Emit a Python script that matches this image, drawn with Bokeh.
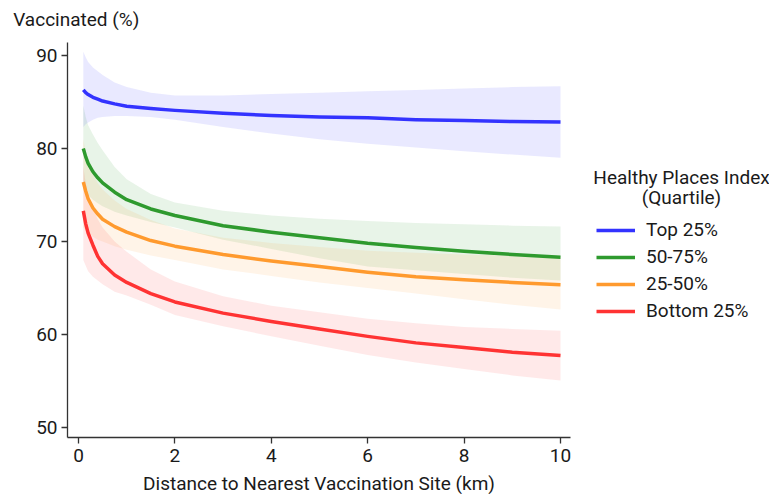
from bokeh.plotting import figure
from bokeh.models import Range1d, FixedTicker, Legend, LegendItem, Label, LinearAxis
from bokeh.embed import file_html
from bokeh.resources import INLINE

# Distance to nearest vaccination site (km)
distance = [0.1, 0.15, 0.2, 0.3, 0.4, 0.5, 0.75, 1, 1.5, 2, 3, 4, 5, 6, 7, 8, 9, 10]

series_names = ["Top 25%", "50-75%", "25-50%", "Bottom 25%"]

top_fit = [86.3, 86.0, 85.8, 85.5, 85.3, 85.1, 84.8, 84.55, 84.3, 84.1, 83.8, 83.55, 83.4, 83.3, 83.1, 83.0, 82.9, 82.85]
top_lo = [82.3, 82.6, 82.8, 83.1, 83.3, 83.4, 83.5, 83.5, 83.4, 83.1, 82.3, 81.6, 81.0, 80.5, 80.1, 79.7, 79.35, 79.0]
top_hi = [90.4, 89.8, 89.3, 88.7, 88.3, 87.9, 87.1, 86.6, 86.0, 85.7, 85.7, 85.85, 86.0, 86.15, 86.3, 86.45, 86.6, 86.7]

q3_fit = [80.0, 79.1, 78.4, 77.5, 76.85, 76.3, 75.3, 74.5, 73.5, 72.8, 71.7, 71.0, 70.4, 69.8, 69.35, 68.95, 68.6, 68.3]
q3_lo = [75.8, 75.4, 75.0, 74.5, 74.1, 73.8, 73.2, 72.8, 72.1, 71.5, 70.2, 69.2, 68.2, 67.3, 66.9, 66.5, 66.1, 65.8]
q3_hi = [84.6, 83.4, 82.5, 81.5, 80.6, 79.8, 78.0, 76.7, 75.1, 74.2, 73.3, 72.8, 72.45, 72.2, 72.0, 71.85, 71.7, 71.6]

q2_fit = [76.4, 75.4, 74.6, 73.6, 72.95, 72.4, 71.6, 71.0, 70.1, 69.5, 68.6, 67.9, 67.3, 66.7, 66.2, 65.9, 65.6, 65.35]
q2_lo = [71.5, 71.2, 70.9, 70.5, 70.2, 70.0, 69.5, 69.1, 68.5, 68.0, 67.0, 66.3, 65.6, 65.0, 64.4, 63.8, 63.2, 62.7]
q2_hi = [81.0, 79.6, 78.5, 77.2, 76.3, 75.6, 74.4, 73.5, 72.3, 71.4, 70.4, 69.85, 69.4, 69.0, 68.8, 68.6, 68.5, 68.4]

bot_fit = [73.3, 71.9, 70.9, 69.6, 68.4, 67.6, 66.4, 65.6, 64.4, 63.5, 62.3, 61.4, 60.6, 59.8, 59.1, 58.6, 58.1, 57.75]
bot_lo = [68.0, 67.4, 66.8, 66.2, 65.8, 65.4, 64.6, 64.2, 63.2, 62.1, 60.9, 59.8, 58.8, 57.8, 57.0, 56.3, 55.6, 55.05]
bot_hi = [78.0, 76.3, 75.0, 73.5, 72.4, 71.5, 70.0, 68.9, 67.0, 65.7, 64.1, 63.1, 62.4, 61.7, 61.2, 60.8, 60.6, 60.4]

x_ticks = [0, 2, 4, 6, 8, 10]
y_ticks = [50, 60, 70, 80, 90]
x_axis_span = (-0.228, 10.207)
y_axis_span = (48.92, 91.4)

line_colors = ["#3333ff", "#2e9a2e", "#ff9a2e", "#ff3333"]
FONT = "Roboto"
FS = "19px"
TXT = "#1a1a1a"

W, H = 769, 494
p = figure(width=W, height=H, output_backend="svg", toolbar_location=None,
           x_range=Range1d(-1.618, 14.336), y_range=Range1d(42.796, 95.914),
           min_border=0, x_axis_type=None, y_axis_type=None)
p.outline_line_color = None
p.grid.visible = False
p.background_fill_color = "white"
p.border_fill_color = "white"

fits = [top_fit, q3_fit, q2_fit, bot_fit]
los = [top_lo, q3_lo, q2_lo, bot_lo]
his = [top_hi, q3_hi, q2_hi, bot_hi]

for lo, hi, c in zip(los, his, line_colors):
    p.varea(x=distance, y1=lo, y2=hi, fill_color=c, fill_alpha=0.11)

items = []
for fit, c, name in zip(fits, line_colors, series_names):
    r = p.line(distance, fit, line_color=c, line_width=3.5, line_join="round")
    items.append(LegendItem(label=name, renderers=[r]))

xaxis = LinearAxis(fixed_location=y_axis_span[0], bounds=x_axis_span,
                   ticker=FixedTicker(ticks=x_ticks),
                   axis_label="Distance to Nearest Vaccination Site (km)")
yaxis = LinearAxis(fixed_location=x_axis_span[0], bounds=y_axis_span,
                   ticker=FixedTicker(ticks=y_ticks))
for ax in (xaxis, yaxis):
    ax.major_label_text_font = FONT
    ax.major_label_text_font_size = FS
    ax.major_label_text_color = TXT
    ax.axis_line_color = "#333333"
    ax.axis_line_width = 1.3
    ax.major_tick_line_color = "#333333"
    ax.major_tick_line_width = 1.3
    ax.major_tick_in = 0
    ax.major_tick_out = 6
    ax.minor_tick_line_color = None
xaxis.major_label_standoff = 5
yaxis.major_label_standoff = 4
xaxis.axis_label_text_font = FONT
xaxis.axis_label_text_font_size = FS
xaxis.axis_label_text_font_style = "normal"
xaxis.axis_label_text_color = TXT
xaxis.axis_label_standoff = 7
p.add_layout(xaxis, "below")
p.add_layout(yaxis, "left")

# y-axis title, drawn horizontally above the axis
p.add_layout(Label(x=12.7, y=H - 19, x_units="screen", y_units="screen",
                   text="Vaccinated (%)", text_align="left", text_baseline="middle",
                   text_font=FONT, text_font_size=FS, text_color=TXT))

# legend title (two centred lines)
for txt, yy in (("Healthy Places Index", H - 176.7), ("(Quartile)", H - 196.7)):
    p.add_layout(Label(x=681, y=yy, x_units="screen", y_units="screen",
                       text=txt, text_align="center", text_baseline="middle",
                       text_font=FONT, text_font_size=FS, text_color=TXT))

legend = Legend(items=items, location=(596, H - 322), orientation="vertical")
legend.label_text_font = FONT
legend.label_text_font_size = FS
legend.label_text_color = TXT
legend.glyph_width = 39
legend.glyph_height = 22
legend.label_height = 22
legend.label_standoff = 11
legend.spacing = 4
legend.padding = 10
legend.margin = 0
legend.border_line_color = None
legend.background_fill_alpha = 0
p.add_layout(legend, "center")

open("out.html", "w").write(file_html(p, INLINE))
